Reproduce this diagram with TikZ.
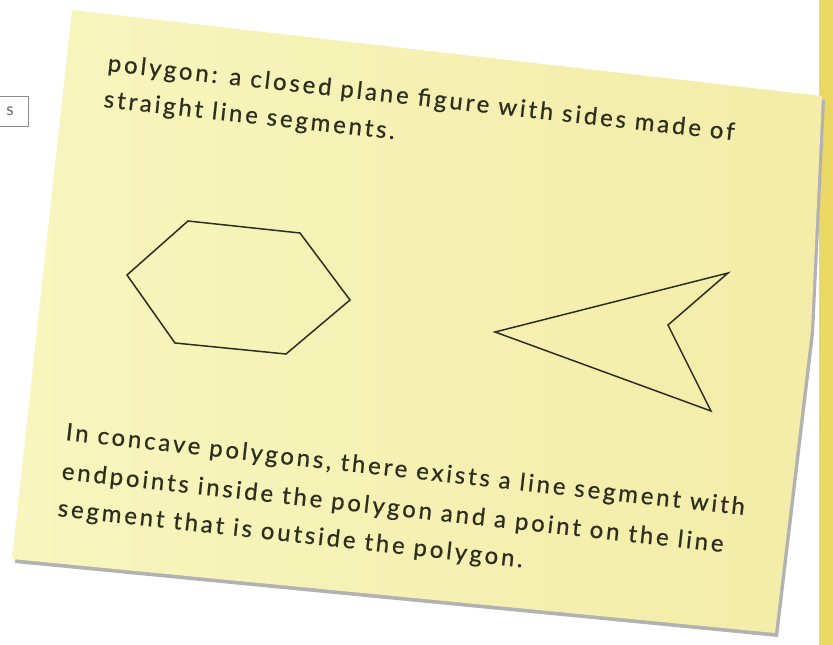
\documentclass[tikz,border=0pt]{standalone}
\usepackage{fontspec}
\setmainfont{Lato}
\newfontfamily\handfont{Lato}[LetterSpace=12,FakeBold=0.6]
\usepackage{tikz}
\usetikzlibrary{positioning}

\definecolor{notepaper}{RGB}{246,246,190}
\definecolor{notepaperdk}{RGB}{244,236,168}
\definecolor{ink}{RGB}{46,46,30}
\definecolor{tabyellow}{RGB}{234,215,100}

\begin{document}
\begin{tikzpicture}[
  x=1pt, y=-1pt,
  hand/.style  ={font=\handfont\fontsize{24}{28}\selectfont, text=ink,
                 anchor=base west, inner sep=0pt, rotate=-6.3},
  shapeline/.style={draw=ink, line width=1.5pt, line join=miter},
  tabbox/.style={draw=black!45, line width=0.6pt, minimum width=36pt,
                 minimum height=30pt, font=\fontsize{17}{20}\selectfont, text=black!60},
]
% ---- page ----
\fill[white] (0,0) rectangle (833,645);
\useasboundingbox (0,0) rectangle (833,645);
\clip (0,0) rectangle (833,645);

% ---- yellow strip on the right ----
\fill[tabyellow] (819,0) rectangle (833,645);

% ---- tab at the left ----
\node[tabbox] (tab) at (10,111) {s};

% ---- sticky note with its shadow ----
\fill[black!30, shift={(3,4)}]
  (72,10) -- (822,96) -- (811,330) -- (775,633) -- (12,559) -- cycle;
\shade[left color=notepaper, right color=notepaperdk]
  (72,10) -- (822,96) -- (811,330) -- (775,633) -- (12,559) -- cycle;

% ---- definition ----
\node[hand] (def1) at (107,71)  {polygon: a closed plane figure with sides made of};
\node[hand] (def2) at (103,107) {straight line segments.};

% ---- convex and concave polygon ----
\draw[shapeline] (188,221) -- (300,233) -- (350,300) -- (286,354)
                 -- (175,343) -- (127,275) -- cycle;
\draw[shapeline] (495,332) -- (728,273) -- (668,325) -- (711,411) -- cycle;

% ---- explanation ----
\node[hand] (txt1) at (65,440) {In concave polygons, there exists a line segment with};
\node[hand] (txt2) at (61,479) {endpoints inside the polygon and a point on the line};
\node[hand] (txt3) at (57,516) {segment that is outside the polygon.};
\end{tikzpicture}
\end{document}
